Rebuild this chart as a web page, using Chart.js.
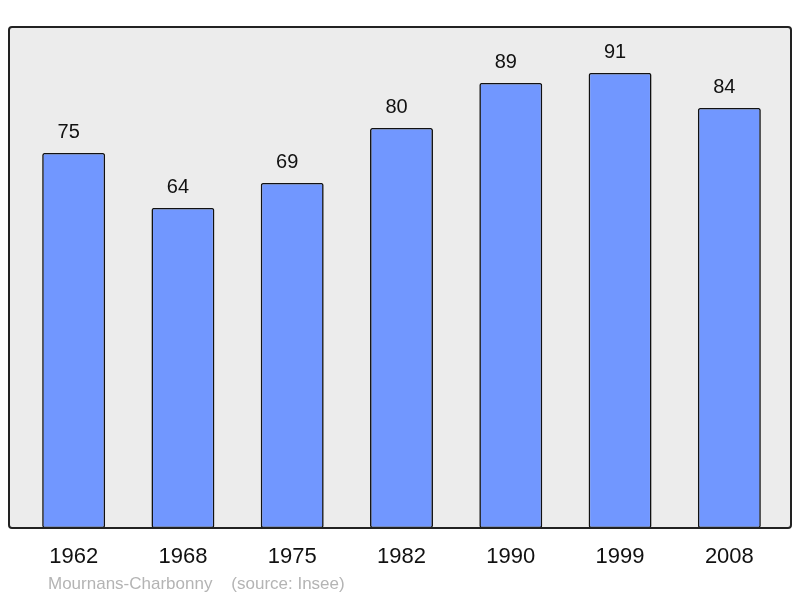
<!DOCTYPE html>
<html>
<head>
<meta charset="utf-8">
<script src="https://cdn.jsdelivr.net/npm/chart.js@4/dist/chart.umd.min.js"></script>
<style>
  html, body { margin: 0; padding: 0; background: #fff; }
  #wrap { width: 800px; height: 598px; }
</style>
</head>
<body>
<div id="wrap"><canvas id="myChart"></canvas></div>
<script>
const years = ['1962', '1968', '1975', '1982', '1990', '1999', '2008']
const population = [75, 64, 69, 80, 89, 91, 84]
const footerText = 'Mournans-Charbonny    (source: Insee)'

// grey frame behind the bars
const framePlugin = {
    id: 'frame',
    beforeDatasetsDraw(chart) {
        const a = chart.chartArea
        const ctx = chart.ctx
        const x = a.left - 10, y = a.top - 1
        const w = (a.right + 7) - x, h = a.bottom - y
        ctx.save()
        ctx.beginPath()
        ctx.roundRect(x, y, w, h, 3)
        ctx.fillStyle = '#ececec'
        ctx.fill()
        ctx.restore()
    },
    afterDatasetsDraw(chart) {
        const a = chart.chartArea
        const ctx = chart.ctx
        const x = a.left - 10, y = a.top - 1
        const w = (a.right + 7) - x, h = a.bottom - y
        ctx.save()
        ctx.beginPath()
        ctx.roundRect(x, y, w, h, 3)
        ctx.lineWidth = 2
        ctx.strokeStyle = '#222'
        ctx.stroke()

        // values above bars
        const meta = chart.getDatasetMeta(0)
        ctx.fillStyle = '#111'
        ctx.font = '20px "Liberation Sans", Arial, sans-serif'
        ctx.textAlign = 'center'
        ctx.textBaseline = 'middle'
        meta.data.forEach((bar, i) => {
            ctx.fillText(String(population[i]), bar.x - 5, bar.y - 21)
        })

        // footer
        ctx.fillStyle = '#b4b4b4'
        ctx.font = '17px "Liberation Sans", Arial, sans-serif'
        ctx.textAlign = 'left'
        ctx.fillText(footerText, 48, 584)
        ctx.restore()
    }
}

var chart = new Chart(document.getElementById('myChart').getContext('2d'), {
    type: 'bar',
    data: {
        labels: years,
        datasets: [{
            data: population,
            backgroundColor: '#7197ff',
            borderColor: '#111',
            borderWidth: 1.6,
            borderRadius: 2,
            borderSkipped: false,
            barPercentage: 0.576,
            categoryPercentage: 1
        }]
    },
    options: {
        responsive: true,
        maintainAspectRatio: false,
        animation: false,
        layout: { padding: { left: 19, right: 16, top: 28, bottom: 0 } },
        plugins: { legend: { display: false }, tooltip: { enabled: false } },
        scales: {
            x: {
                grid: { display: false, drawTicks: false },
                border: { display: false },
                ticks: {
                    color: '#111',
                    font: { size: 22, family: '"Liberation Sans", Arial, sans-serif' },
                    padding: 16,
                    maxRotation: 0
                },
                afterFit: s => { s.height = 70 }
            },
            y: {
                display: false,
                min: 0,
                max: 100
            }
        }
    },
    plugins: [framePlugin]
});
</script>
</body>
</html>
